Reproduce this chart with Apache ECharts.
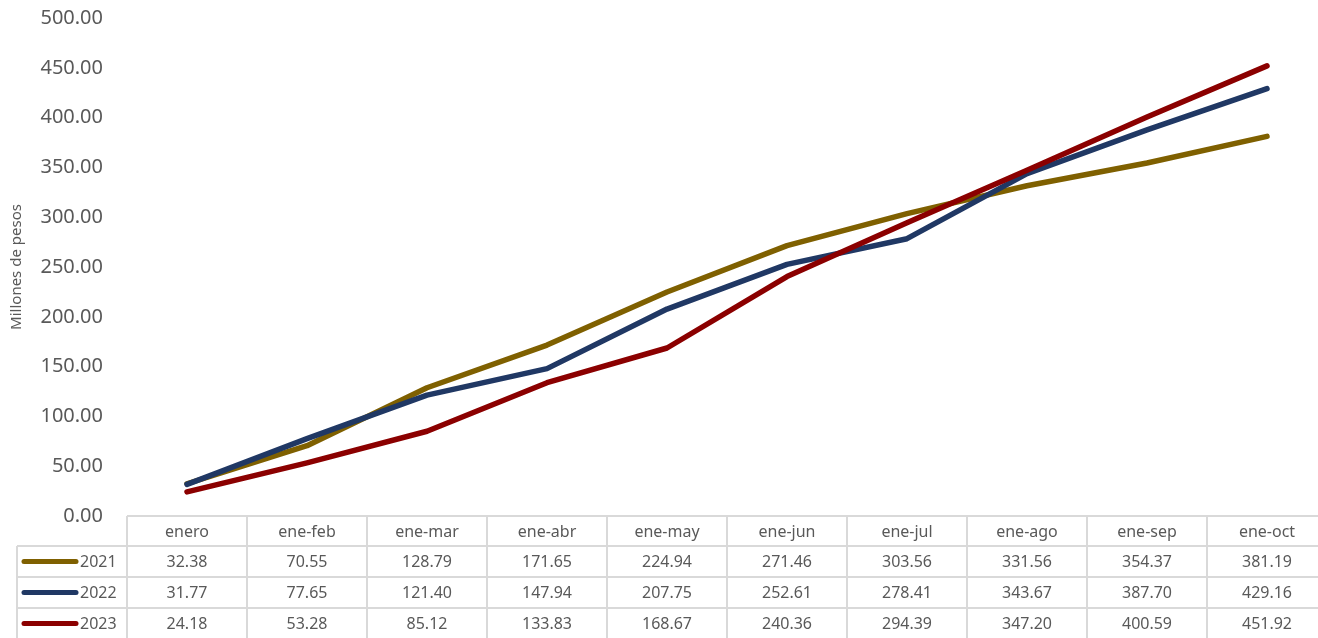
<!DOCTYPE html>
<html>
<head>
<meta charset="utf-8">
<script src="https://cdn.jsdelivr.net/npm/echarts@6/dist/echarts.min.js"></script>
<style>
html,body{margin:0;padding:0;background:#fff;overflow:hidden;width:1318px;height:638px;}
#chart{width:1330px;height:638px;}
</style>
</head>
<body>
<div id="chart"></div>
<script>
const categories = ['enero','ene-feb','ene-mar','ene-abr','ene-may','ene-jun','ene-jul','ene-ago','ene-sep','ene-oct'];
const seriesNames = ['2021','2022','2023'];
const values2021 = [32.38,70.55,128.79,171.65,224.94,271.46,303.56,331.56,354.37,381.19];
const values2022 = [31.77,77.65,121.40,147.94,207.75,252.61,278.41,343.67,387.70,429.16];
const values2023 = [24.18,53.28,85.12,133.83,168.67,240.36,294.39,347.20,400.59,451.92];
const seriesColors = ['#7F6000','#203864','#8B0000'];
const yAxisTitle = 'Millones de pesos';

(function () {
const allValues = [values2021, values2022, values2023];
const FONT = '"Noto Sans", "Open Sans", sans-serif';
const TXT = '#595959';

const chart = echarts.init(document.getElementById('chart'), null, {renderer:'canvas'});
const option = {
  animation: false,
  backgroundColor: '#fff',
  textStyle: {fontFamily: FONT},
  grid: {left: 127, width: 1200, top: 18, height: 498, containLabel: false},
  xAxis: {
    type: 'category', data: categories, boundaryGap: true,
    axisLine: {show: false}, axisTick: {show: false}, axisLabel: {show: false},
    splitLine: {show: false}
  },
  yAxis: {
    type: 'value', min: 0, max: 500, interval: 50,
    name: yAxisTitle, nameLocation: 'middle', nameGap: 103, nameRotate: 90,
    nameTextStyle: {fontSize: 15, color: TXT, fontFamily: FONT},
    axisLine: {show: false}, axisTick: {show: false}, splitLine: {show: false},
    axisLabel: {fontSize: 20, color: TXT, margin: 24, fontFamily: FONT,
      formatter: v => v.toFixed(2)}
  },
  series: seriesNames.map((n, i) => ({
    name: n, type: 'line', data: allValues[i], symbol: 'none', smooth: false,
    lineStyle: {color: seriesColors[i], width: 5.5, cap: 'round', join: 'round'},
    z: 2 + i
  }))
};
chart.setOption(option);

const cx = categories.map(c => chart.convertToPixel({xAxisIndex: 0}, c));
const colW = cx[1] - cx[0];
const leftEdge = cx[0] - colW / 2;
const rightEdge = cx[cx.length - 1] + colW / 2;
const tableTop = chart.convertToPixel({yAxisIndex: 0}, 0);
const headerH = 30, rowH = 31;
const legendLeft = 17;
const tableBottom = tableTop + headerH + rowH * seriesNames.length;
const border = {stroke: '#d9d9d9', lineWidth: 2};
const els = [];
els.push({type: 'line', shape: {x1: leftEdge, y1: tableTop, x2: rightEdge, y2: tableTop}, style: border});
for (let r = 0; r <= seriesNames.length; r++) {
  const y = tableTop + headerH + r * rowH;
  els.push({type: 'line', shape: {x1: legendLeft, y1: y, x2: rightEdge, y2: y}, style: border});
}
els.push({type: 'line', shape: {x1: legendLeft, y1: tableTop + headerH, x2: legendLeft, y2: tableBottom}, style: border});
for (let c = 0; c <= categories.length; c++) {
  const x = leftEdge + c * colW;
  els.push({type: 'line', shape: {x1: x, y1: tableTop, x2: x, y2: tableBottom}, style: border});
}
categories.forEach((c, i) => {
  els.push({type: 'text', x: cx[i], y: tableTop + headerH / 2 + 1,
    style: {text: c, fill: TXT, font: '16px ' + FONT, align: 'center', verticalAlign: 'middle'}});
});
seriesNames.forEach((n, r) => {
  const yc = tableTop + headerH + r * rowH + rowH / 2 + 1;
  els.push({type: 'line', shape: {x1: 24, y1: yc - 1, x2: 76, y2: yc - 1},
    style: {stroke: seriesColors[r], lineWidth: 5, lineCap: 'round'}});
  els.push({type: 'text', x: 80, y: yc,
    style: {text: n, fill: TXT, font: '16px ' + FONT, align: 'left', verticalAlign: 'middle'}});
  allValues[r].forEach((v, i) => {
    els.push({type: 'text', x: cx[i], y: yc,
      style: {text: v.toFixed(2), fill: TXT, font: '16px ' + FONT, align: 'center', verticalAlign: 'middle'}});
  });
});
chart.setOption({graphic: {elements: els}});
})();
</script>
</body>
</html>
